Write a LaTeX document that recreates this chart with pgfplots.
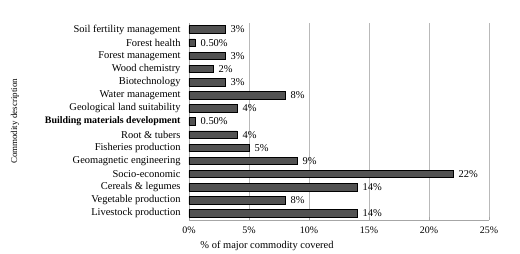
\documentclass[border=0pt]{standalone}
\usepackage{pgfplots}
\pgfplotsset{compat=1.18}
\usepackage{fontspec}
\setmainfont{Liberation Serif}
\begin{document}
\begin{tikzpicture}
\begin{axis}[
  name=ax,
  at={(0,0)}, anchor=south west,
  scale only axis,
  width=300bp, height=197bp,
  xbar,
  bar width=7.5bp,
  xmin=0, xmax=25,
  ymin=-0.5, ymax=14.5,
  xtick={0,5,10,15,20,25},
  xticklabel={\pgfmathprintnumber{\tick}\%},
  /pgf/number format/assume math mode=true,
  ytick={0,...,14},
  yticklabels={Livestock production,Vegetable production,Cereals \& legumes,Socio-economic,Geomagnetic engineering,Fisheries production,Root \& tubers,{\textbf{\fontsize{10}{11}\selectfont Building materials development}},Geological land suitability,Water management,Biotechnology,Wood chemistry,Forest management,Forest health,Soil fertility management},
  yticklabel style={font=\fontsize{10.5}{11}\selectfont, xshift=-2bp},
  xticklabel style={font=\fontsize{10}{11}\selectfont, yshift=-3bp},
  ytick style={draw=none},
  xtick style={gray!70, line width=0.6pt},
  major tick length=3bp,
  xmajorgrids,
  grid style={gray!55, line width=0.8pt},
  axis line style={gray!70, line width=0.6pt},
  axis x line*=bottom,
  axis y line*=left,
  xlabel={\% of major commodity covered},
  ylabel={Commodity description},
  xlabel style={font=\fontsize{10.5}{11}\selectfont, at={(axis description cs:0.26,0)}, anchor=base, yshift=-28bp},
  ylabel style={font=\fontsize{9}{10}\selectfont, at={(axis description cs:-0.58,0.5)}, anchor=center},
  point meta=explicit symbolic,
  nodes near coords,
  nodes near coords style={font=\fontsize{10.5}{11}\selectfont, anchor=west, xshift=2bp},
  clip=false,
]
\addplot[fill=black!68, draw=black, line width=0.7pt] coordinates {
  (14,0) [14\%]
  (8,1) [8\%]
  (14,2) [14\%]
  (22,3) [22\%]
  (9,4) [9\%]
  (5,5) [5\%]
  (4,6) [4\%]
  (0.5,7) [0.50\%]
  (4,8) [4\%]
  (8,9) [8\%]
  (3,10) [3\%]
  (2,11) [2\%]
  (3,12) [3\%]
  (0.5,13) [0.50\%]
  (3,14) [3\%]
};
\end{axis}
\path (ax.south west) ++(-189bp,-32bp) rectangle ++(520bp,252bp);
\end{tikzpicture}
\end{document}
